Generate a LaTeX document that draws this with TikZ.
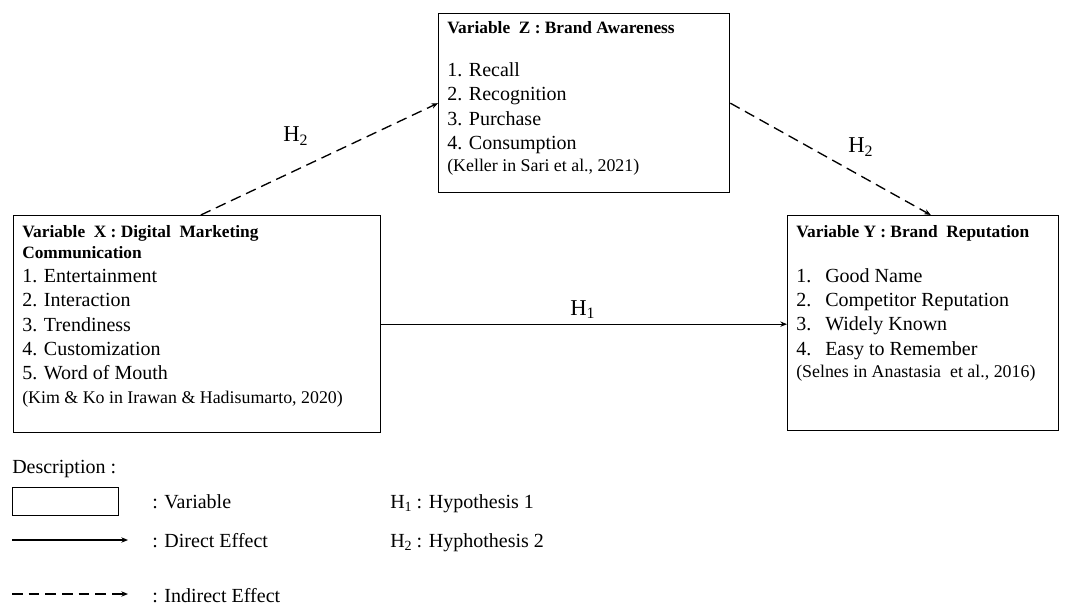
\documentclass[tikz,border=0pt]{standalone}
\usepackage{fontspec}
\setmainfont{Liberation Serif}
\usetikzlibrary{arrows.meta, calc}
\newcommand{\pxl}{0.75pt}
\newcommand{\hdr}[1]{{\bfseries\fontsize{13}{15}\selectfont #1}}
\newcommand{\srcnote}[1]{{\fontsize{13.4}{15}\selectfont #1}}
\newcommand{\numit}[1]{\makebox[21.75pt][l]{#1}}
\newcommand{\hsub}[1]{H\raisebox{-0.35ex}{\fontsize{0.7em}{1em}\selectfont #1}}
\tikzset{
  varbox/.style={draw, line width=1pt, inner sep=0pt, anchor=north west},
  boxtext/.style={anchor=north west, align=left, inner sep=0pt, font=\fontsize{15}{18.2}\selectfont},
  direct/.style={line width=1pt, -{Stealth[length=5pt, width=4pt]}},
  indirect/.style={direct, dash pattern=on 8pt off 4.5pt},
  hlabel/.style={anchor=base west, inner sep=0pt, font=\fontsize{17}{20}\selectfont},
  legtext/.style={anchor=base west, inner sep=0pt, font=\fontsize{15}{18}\selectfont}}

\begin{document}
\begin{tikzpicture}[x=0.75pt, y=-0.75pt]
\useasboundingbox (0,0) rectangle (1067,606);
% the three variables
\node[varbox, minimum width=291*\pxl, minimum height=179*\pxl] (z) at (438,13) {};
\node[varbox, minimum width=367*\pxl, minimum height=217*\pxl] (x) at (13,215) {};
\node[varbox, minimum width=271*\pxl, minimum height=215*\pxl] (y) at (787,215) {};
\node[boxtext] (ztext) at (447,21) {\hdr{Variable\ \ Z : Brand Awareness}\\[14.2pt]
  1. Recall\\ 2. Recognition\\ 3. Purchase\\ 4. Consumption\\[-1.7pt]
  \srcnote{(Keller in Sari et al., 2021)}};
\node[boxtext] (xtext) at (22,225) {\hdr{Variable\ \ X : Digital\ \ Marketing}\\[-2.5pt]
  \hdr{Communication}\\
  1. Entertainment\\ 2. Interaction\\ 3. Trendiness\\ 4. Customization\\ 5. Word of Mouth\\[-0.6pt]
  \srcnote{(Kim \& Ko in Irawan \& Hadisumarto, 2020)}};
\node[boxtext] (ytext) at (796,225) {\hdr{Variable Y : Brand\ \ Reputation}\\[15.5pt]
  \numit{1.}Good Name\\ \numit{2.}Competitor Reputation\\ \numit{3.}Widely Known\\
  \numit{4.}Easy to Remember\\[-1.7pt]
  \srcnote{(Selnes in Anastasia\ \ et al., 2016)}};
% effects between the variables
\draw[indirect] ($(x.north west)!0.51!(x.north east)$) -- ($(z.north west)!0.5!(z.south west)$);
\draw[indirect] ($(z.north east)!0.5!(z.south east)$) -- ($(y.north west)!0.528!(y.north east)$);
\draw[direct] (x.east) -- (x.east -| y.west);
\node[hlabel] (h2left) at (283,142) {\hsub{2}};
\node[hlabel] (h2right) at (848,153) {\hsub{2}};
\node[hlabel] (h1mid) at (570,315) {\hsub{1}};
% description
\node[legtext] (desc) at (12,473) {Description :};
\node[varbox, minimum width=106*\pxl, minimum height=28*\pxl] (keybox) at (12,487) {};
\node[legtext] (keyvar) at (152,508) {: Variable};
\coordinate (dirstart) at (12,540);
\coordinate (dirend) at (128,540);
\draw[direct] (dirstart) -- (dirend);
\node[legtext] (keydir) at (152,547) {: Direct Effect};
\coordinate (indstart) at (12,594);
\coordinate (indend) at (128,594);
\draw[indirect] (indstart) -- (indend);
\node[legtext] (keyind) at (152,602) {: Indirect Effect};
\node[legtext] (keyh1) at (390,508) {\hsub{1} : Hypothesis 1};
\node[legtext] (keyh2) at (390,547) {\hsub{2} : Hyphothesis 2};
\end{tikzpicture}
\end{document}
